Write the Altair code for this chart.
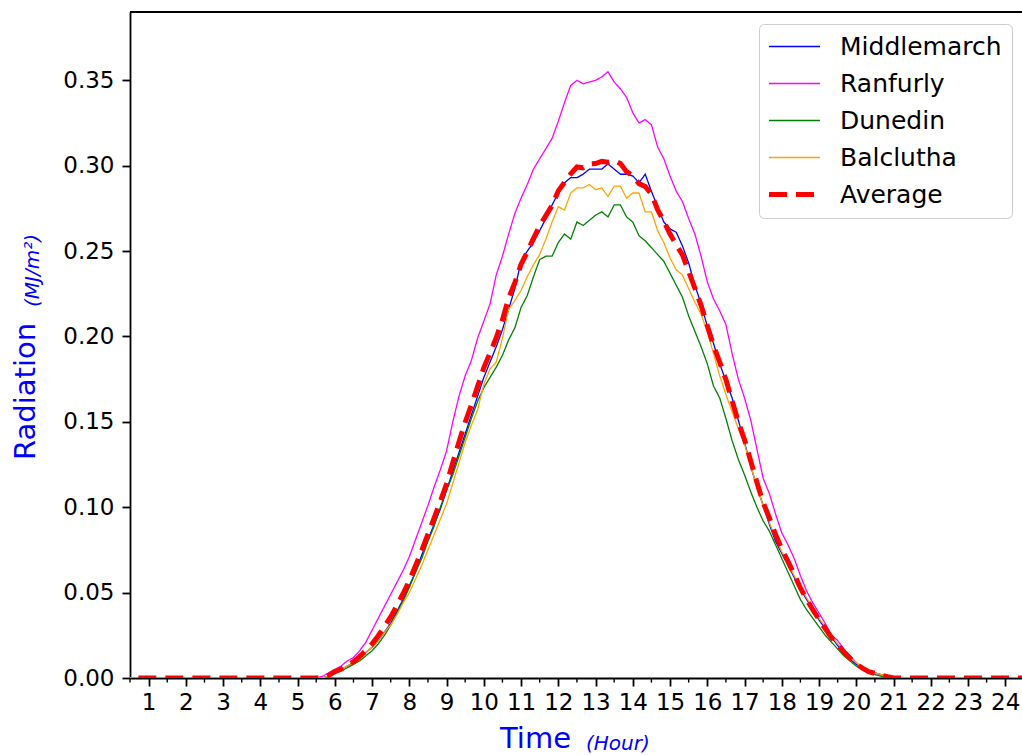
import altair as alt
import pandas as pd
import numpy as np

# 10-minute samples from 05:30 to 21:00 (hours); radiation is zero outside this window
hours = [round(5.5 + k / 6, 4) for k in range(94)]

middlemarch = [0.000,0.000,0.001,0.004,0.005,0.007,0.009,0.012,0.015,0.018,
0.022,0.027,0.032,0.039,0.046,0.054,0.062,0.072,0.081,0.090,
0.099,0.110,0.121,0.132,0.143,0.154,0.165,0.176,0.185,0.194,
0.204,0.216,0.228,0.244,0.250,0.255,0.262,0.269,0.277,0.284,
0.290,0.293,0.293,0.295,0.298,0.298,0.298,0.301,0.298,0.295,
0.295,0.294,0.290,0.295,0.285,0.276,0.267,0.263,0.261,0.253,
0.243,0.230,0.219,0.206,0.196,0.184,0.174,0.164,0.151,0.138,
0.124,0.112,0.101,0.090,0.080,0.073,0.066,0.059,0.052,0.046,
0.040,0.034,0.029,0.024,0.019,0.015,0.011,0.008,0.006,0.004,
0.003,0.002,0.001,0.000]

ranfurly = [0.000,0.001,0.003,0.005,0.007,0.010,0.012,0.016,0.021,0.028,
0.035,0.042,0.049,0.056,0.063,0.071,0.081,0.091,0.101,0.112,
0.122,0.133,0.150,0.165,0.177,0.186,0.199,0.209,0.219,0.236,
0.247,0.260,0.272,0.281,0.289,0.298,0.304,0.310,0.316,0.326,
0.337,0.347,0.350,0.348,0.349,0.350,0.352,0.355,0.349,0.345,
0.340,0.331,0.325,0.327,0.324,0.311,0.304,0.294,0.285,0.279,
0.269,0.260,0.247,0.232,0.222,0.215,0.207,0.190,0.175,0.164,
0.151,0.134,0.117,0.108,0.096,0.085,0.078,0.070,0.060,0.051,
0.044,0.038,0.032,0.025,0.022,0.017,0.013,0.009,0.006,0.004,
0.003,0.002,0.001,0.000]

dunedin = [0.000,0.000,0.001,0.003,0.004,0.006,0.008,0.010,0.013,0.016,
0.020,0.025,0.031,0.038,0.045,0.053,0.062,0.070,0.080,0.089,
0.100,0.110,0.119,0.130,0.141,0.152,0.162,0.170,0.176,0.182,
0.189,0.198,0.205,0.217,0.224,0.235,0.245,0.247,0.247,0.255,
0.260,0.257,0.267,0.265,0.268,0.271,0.273,0.270,0.277,0.277,
0.270,0.267,0.259,0.256,0.252,0.248,0.244,0.237,0.230,0.223,
0.212,0.203,0.194,0.184,0.171,0.164,0.152,0.139,0.128,0.119,
0.109,0.100,0.092,0.086,0.078,0.070,0.062,0.054,0.046,0.040,
0.035,0.030,0.025,0.021,0.017,0.013,0.010,0.007,0.005,0.003,
0.002,0.001,0.000,0.000]

balclutha = [0.000,0.000,0.001,0.003,0.005,0.007,0.009,0.012,0.015,0.018,
0.022,0.027,0.031,0.037,0.044,0.050,0.058,0.066,0.075,0.084,
0.093,0.102,0.114,0.126,0.138,0.148,0.157,0.172,0.181,0.185,
0.199,0.216,0.221,0.227,0.235,0.242,0.248,0.257,0.267,0.276,
0.274,0.284,0.287,0.287,0.289,0.286,0.287,0.282,0.288,0.288,
0.281,0.284,0.284,0.273,0.273,0.262,0.255,0.246,0.239,0.236,
0.228,0.220,0.213,0.203,0.190,0.177,0.166,0.156,0.146,0.137,
0.124,0.112,0.101,0.091,0.082,0.074,0.067,0.060,0.053,0.047,
0.041,0.035,0.030,0.025,0.020,0.016,0.012,0.009,0.006,0.004,
0.003,0.002,0.001,0.000]

stations = {"Middlemarch": middlemarch, "Ranfurly": ranfurly,
            "Dunedin": dunedin, "Balclutha": balclutha}
average = list(np.mean(np.array(list(stations.values())), axis=0))

series_names = ["Middlemarch", "Ranfurly", "Dunedin", "Balclutha", "Average"]
series_colors = ["#0000ff", "#ff00ff", "#008000", "#ffa500", "#ff0000"]
series_dash = [[1, 0], [1, 0], [1, 0], [1, 0], [18, 9]]
series_width = [1.3, 1.3, 1.3, 1.3, 5]

x_ticks = list(range(1, 25))
x_minor = [h + 0.5 for h in range(0, 24)]
y_ticks = [0.0, 0.05, 0.10, 0.15, 0.20, 0.25, 0.30, 0.35]

rows = []
for name, vals in list(stations.items()) + [("Average", average)]:
    full_t = [0.0] + hours + [24.5]
    full_v = [0.0] + list(vals) + [0.0]
    for t, v in zip(full_t, full_v):
        rows.append({"Hour": t, "Radiation": float(v), "Series": name})
df = pd.DataFrame(rows)

FONT = "DejaVu Sans"
W, H = 892, 666

x_axis = alt.Axis(values=x_ticks, format="d", title=None, grid=False,
                  labelFontSize=23, labelFont=FONT, labelColor="black",
                  tickSize=8, tickWidth=1.8, tickColor="black",
                  domainColor="black", domainWidth=1.8,
                  labelPadding=5, labelFlush=False, labelOverlap=False)
x_scale = alt.Scale(domain=[0.5, 24.45], nice=False, zero=False)
x_enc = alt.X("Hour:Q", scale=x_scale, axis=x_axis)
y_enc = alt.Y("Radiation:Q",
              scale=alt.Scale(domain=[0, 0.39], nice=False),
              axis=alt.Axis(values=y_ticks, format=".2f", title=None, grid=False,
                            labelFontSize=23, labelFont=FONT, labelColor="black",
                            tickSize=8, tickWidth=1.8, tickColor="black",
                            domainColor="black", domainWidth=1.8,
                            labelPadding=8, labelFlush=False, labelOverlap=False))

legend = alt.Legend(title=None, orient="none", legendX=629, legendY=12,
                    symbolType="M-2.684,0H2.684", symbolSize=361, symbolOffset=13,
                    labelFontSize=25, labelFont=FONT, labelColor="black",
                    labelOffset=33, labelLimit=400, padding=10, rowPadding=11,
                    strokeColor="#cccccc", fillColor="rgba(255,255,255,0.8)",
                    cornerRadius=5)

color_enc = alt.Color("Series:N", scale=alt.Scale(domain=series_names, range=series_colors), legend=legend)
dash_enc = alt.StrokeDash("Series:N", scale=alt.Scale(domain=series_names, range=series_dash), legend=legend)
width_enc = alt.StrokeWidth("Series:N", scale=alt.Scale(type="ordinal", domain=series_names, range=series_width), legend=legend)

base = alt.Chart(df)
station_lines = base.transform_filter(alt.datum.Series != "Average").mark_line(clip=True).encode(
    x=x_enc, y=y_enc, color=color_enc, strokeDash=dash_enc, strokeWidth=width_enc)
avg_line = base.transform_filter(alt.datum.Series == "Average").mark_line(clip=True).encode(
    x=x_enc, y=y_enc, color=color_enc, strokeDash=dash_enc, strokeWidth=width_enc)

minor = alt.Chart(pd.DataFrame({"Hour": x_minor})).mark_rule(color="black", strokeWidth=1.4).encode(
    x=x_enc, y=alt.value(H), y2=alt.value(H + 4.6))

top_spine = alt.Chart(pd.DataFrame({"k": [0]})).mark_rule(color="black", strokeWidth=1.8).encode(
    x=alt.value(0), x2=alt.value(W), y=alt.value(0))

def label(txt, x, y, size, angle=0, italic=False):
    return alt.Chart(pd.DataFrame({"t": [txt]})).mark_text(
        font=FONT, fontSize=size, color="#0000ff", align="left", baseline="alphabetic",
        angle=angle, fontStyle="italic" if italic else "normal").encode(
        text="t:N", x=alt.value(x), y=alt.value(y))

y_title = label("Radiation", -95, 448, 29, angle=270)
y_unit = label("(MJ/m²)", -91, 295, 20, angle=270, italic=True)
x_title = label("Time", 370, 736, 29)
x_unit = label("(Hour)", 456, 738, 20, italic=True)

chart = alt.layer(station_lines, avg_line, minor, top_spine,
                  y_title, y_unit, x_title, x_unit).properties(
    width=W, height=H,
    padding={"left": 130, "top": 12, "right": 0, "bottom": 77},
    autosize=alt.AutoSizeParams(type="none"),
    background="white"
).configure_view(stroke=None)

chart.save("out.html", embed_options={"renderer": "svg", "actions": False})
